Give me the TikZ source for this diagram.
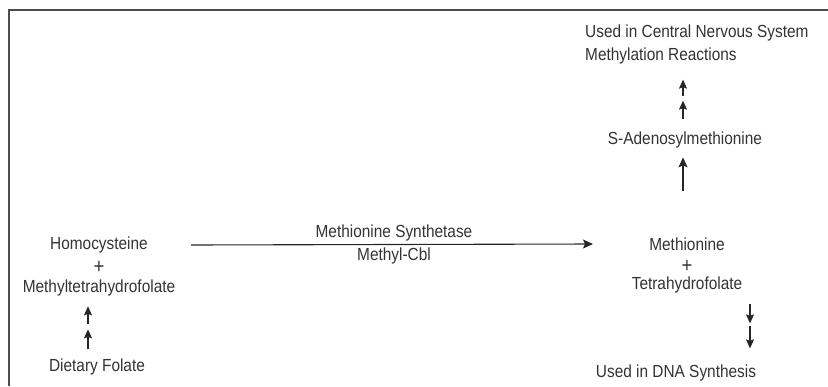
\documentclass[tikz,border=0pt]{standalone}
\usepackage{fontspec}
\setmainfont[FakeStretch=0.88]{Liberation Sans}
\usetikzlibrary{arrows.meta}

\begin{document}
\begin{tikzpicture}%
	[x=1pt, y=-1pt,
	every node/.style={font=\fontsize{17.5}{23}\selectfont, text=black!80, inner sep=3pt},
	plus/.style={font=\fontsize{21}{21}\selectfont},
	frame/.style={draw=black!70, line width=2pt},
	reaction/.style={draw=black!85, line width=1.1pt, -{Stealth[length=10pt,width=9pt,inset=2pt]}},
	steparrow/.style={draw=black!85, line width=1.1pt, -{Stealth[length=9pt,width=8pt,inset=1.5pt]}}]
%
\useasboundingbox (0,0) rectangle (828,386);
%% Frame
\draw[frame] (828,10) -- (9,10) -- (9,386);
%%
%% Left side: substrates
%%
\node (homo)     at (99,245) {Homocysteine};
\node[plus] (homoplus) at (99,267) {+};
\node (mthf)     at (99,288) {Methyltetrahydrofolate};
\node (dietary)  at (97,367) {Dietary Folate};
%%
%% Right side: products
%%
\node (meth)     at (687,244) {Methionine};
\node[plus] (methplus) at (687,266) {+};
\node (thf)      at (687,285) {Tetrahydrofolate};
\node (dna)      at (676,373) {Used in DNA Synthesis};
\node (sam)      at (685,140) {S-Adenosylmethionine};
\node[anchor=west, align=left] (cns) at (582,44) {Used in Central Nervous System\\Methylation Reactions};
%%
%% Enzyme and cofactor
%%
\node (enzyme)   at (394,233) {Methionine Synthetase};
\node (cofactor) at (394,256) {Methyl-Cbl};
%%
%% Arrows
%%
\draw[reaction] (homo.east -| 191,0) -- (meth.west -| 593,0);
\draw[reaction] ([xshift=-2pt,yshift=43pt]sam.south |- meth.north) -- ([xshift=-2pt,yshift=-6pt]sam.south);
\draw[steparrow] ([xshift=-2pt,yshift=33pt]sam.north) -- ([xshift=-2pt,yshift=49pt]sam.north);
\draw[steparrow] ([xshift=-2pt,yshift=10pt]sam.north) -- ([xshift=-2pt,yshift=28pt]sam.north);
\draw[steparrow] ([xshift=-11pt,yshift=-25pt]mthf.south) -- ([xshift=-11pt,yshift=-7pt]mthf.south);
\draw[steparrow] ([xshift=-11pt,yshift=-50pt]mthf.south) -- ([xshift=-11pt,yshift=-30pt]mthf.south);
\draw[steparrow] ([xshift=63pt,yshift=-8pt]thf.south) -- ([xshift=63pt,yshift=-27pt]thf.south);
\draw[steparrow] ([xshift=63pt,yshift=-30pt]thf.south) -- ([xshift=63pt,yshift=-52pt]thf.south);
%%
\end{tikzpicture}
\end{document}
